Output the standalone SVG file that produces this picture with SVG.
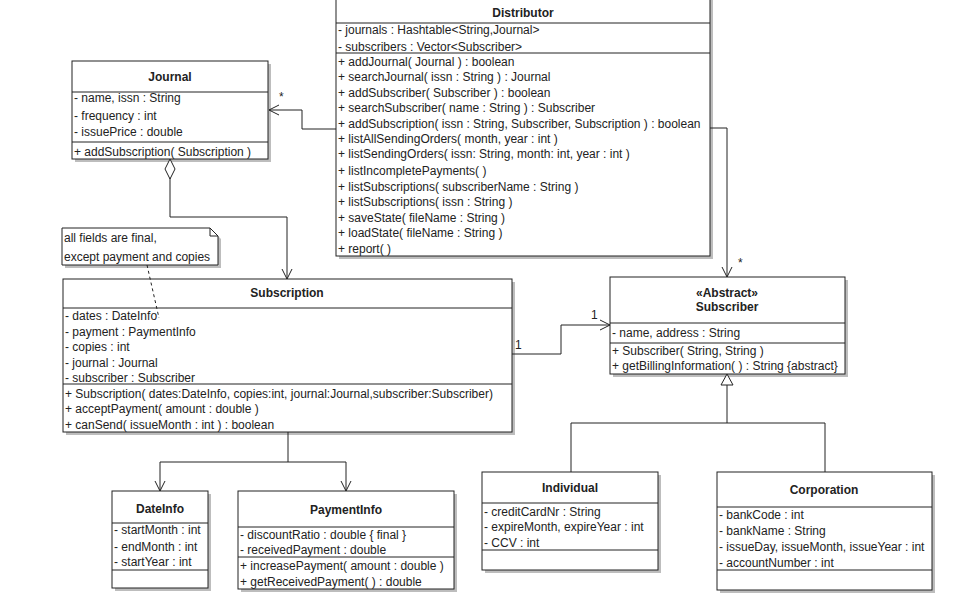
<svg xmlns="http://www.w3.org/2000/svg" width="970" height="599" viewBox="0 0 970 599">
<defs>
<style>
text{font-family:"Liberation Sans",Arial,sans-serif;font-size:12px;fill:#222}
.t{font-weight:bold;text-anchor:middle}
.box{fill:#fff;stroke:#222;stroke-width:1}
.sh{fill:#bdbdbd}
.sep{stroke:#222;stroke-width:1}
.ln{fill:none;stroke:#222;stroke-width:1}
.dash{fill:none;stroke:#222;stroke-width:1;stroke-dasharray:3,3}
</style>
<marker id="open" markerWidth="12" markerHeight="12" refX="11" refY="6" orient="auto" markerUnits="userSpaceOnUse">
<path d="M1,1 L11,6 L1,11" fill="none" stroke="#222" stroke-width="1"/>
</marker>
<marker id="tri" markerWidth="14" markerHeight="14" refX="12" refY="7" orient="auto" markerUnits="userSpaceOnUse">
<path d="M1,1 L12,7 L1,13 Z" fill="#fff" stroke="#222" stroke-width="1"/>
</marker>
<marker id="dia" markerWidth="24" markerHeight="12" refX="1" refY="6" orient="auto" markerUnits="userSpaceOnUse">
<path d="M1,6 L11,1 L21,6 L11,11 Z" fill="#fff" stroke="#222" stroke-width="1"/>
</marker>
</defs>
<rect width="970" height="599" fill="#fff"/>

<g id="note">
<path class="sh" d="M65,231 H213 L221,239 V268 H65 Z"/>
<path class="box" d="M62,228 H210 L218,236 V265 H62 Z"/>
<path class="ln" d="M210,228 V236 H218"/>
<text x="64" y="242">all fields are final,</text>
<text x="64" y="261">except payment and copies</text>
</g>

<g id="Distributor">
<rect class="sh" x="339" y="-4" width="374" height="263"/>
<rect class="box" x="336" y="-7" width="374" height="263"/>
<text class="t" x="523" y="17">Distributor</text>
<line class="sep" x1="336" y1="23" x2="710" y2="23"/>
<text x="338" y="34">- journals : Hashtable&lt;String,Journal&gt;</text>
<text x="338" y="51">- subscribers : Vector&lt;Subscriber&gt;</text>
<line class="sep" x1="336" y1="53" x2="710" y2="53"/>
<text x="338" y="66">+ addJournal( Journal ) : boolean</text>
<text x="338" y="81">+ searchJournal( issn : String ) : Journal</text>
<text x="338" y="97">+ addSubscriber( Subscriber ) : boolean</text>
<text x="338" y="112">+ searchSubscriber( name : String ) : Subscriber</text>
<text x="338" y="128">+ addSubscription( issn : String, Subscriber, Subscription ) : boolean</text>
<text x="338" y="143">+ listAllSendingOrders( month, year : int )</text>
<text x="338" y="158">+ listSendingOrders( issn: String, month: int, year : int )</text>
<text x="338" y="175">+ listIncompletePayments( )</text>
<text x="338" y="191">+ listSubscriptions( subscriberName : String )</text>
<text x="338" y="206">+ listSubscriptions( issn : String )</text>
<text x="338" y="222">+ saveState( fileName : String )</text>
<text x="338" y="237">+ loadState( fileName : String )</text>
<text x="338" y="253">+ report( )</text>
</g>

<g id="Journal">
<rect class="sh" x="75" y="64" width="196" height="98"/>
<rect class="box" x="72" y="61" width="196" height="98"/>
<text class="t" x="170" y="81">Journal</text>
<line class="sep" x1="72" y1="92" x2="268" y2="92"/>
<text x="74" y="102">- name, issn : String</text>
<text x="74" y="120">- frequency : int</text>
<text x="74" y="136">- issuePrice : double</text>
<line class="sep" x1="72" y1="142" x2="268" y2="142"/>
<text x="74" y="156">+ addSubscription( Subscription )</text>
</g>

<g id="Subscription">
<rect class="sh" x="66" y="282" width="449" height="153"/>
<rect class="box" x="63" y="279" width="449" height="153"/>
<text class="t" x="287" y="297">Subscription</text>
<line class="sep" x1="63" y1="308" x2="512" y2="308"/>
<text x="65" y="320">- dates : DateInfo</text>
<text x="65" y="336">- payment : PaymentInfo</text>
<text x="65" y="351">- copies : int</text>
<text x="65" y="367">- journal : Journal</text>
<text x="65" y="382">- subscriber : Subscriber</text>
<line class="sep" x1="63" y1="384" x2="512" y2="384"/>
<text x="65" y="398">+ Subscription( dates:DateInfo, copies:int, journal:Journal,subscriber:Subscriber)</text>
<text x="65" y="413">+ acceptPayment( amount : double )</text>
<text x="65" y="429">+ canSend( issueMonth : int ) : boolean</text>
</g>

<g id="Subscriber">
<rect class="sh" x="613" y="280" width="235" height="97"/>
<rect class="box" x="610" y="277" width="235" height="97"/>
<text class="t" x="727" y="297">«Abstract»</text>
<text class="t" x="727" y="311">Subscriber</text>
<line class="sep" x1="610" y1="323" x2="845" y2="323"/>
<text x="612" y="337">- name, address : String</text>
<line class="sep" x1="610" y1="343" x2="845" y2="343"/>
<text x="612" y="355">+ Subscriber( String, String )</text>
<text x="612" y="370">+ getBillingInformation( ) : String {abstract}</text>
</g>

<g id="DateInfo">
<rect class="sh" x="115" y="494" width="96" height="97"/>
<rect class="box" x="112" y="491" width="96" height="97"/>
<text class="t" x="160" y="513">DateInfo</text>
<line class="sep" x1="112" y1="523" x2="208" y2="523"/>
<text x="114" y="534">- startMonth : int</text>
<text x="114" y="551">- endMonth : int</text>
<text x="114" y="566">- startYear : int</text>
<line class="sep" x1="112" y1="570" x2="208" y2="570"/>
</g>

<g id="PaymentInfo">
<rect class="sh" x="241" y="494" width="216" height="98"/>
<rect class="box" x="238" y="491" width="216" height="98"/>
<text class="t" x="346" y="514">PaymentInfo</text>
<line class="sep" x1="238" y1="527" x2="454" y2="527"/>
<text x="240" y="539">- discountRatio : double { final }</text>
<text x="240" y="554">- receivedPayment : double</text>
<line class="sep" x1="238" y1="557" x2="454" y2="557"/>
<text x="240" y="570">+ increasePayment( amount : double )</text>
<text x="240" y="586">+ getReceivedPayment( ) : double</text>
</g>

<g id="Individual">
<rect class="sh" x="485" y="475" width="176" height="98"/>
<rect class="box" x="482" y="472" width="176" height="98"/>
<text class="t" x="570" y="492">Individual</text>
<line class="sep" x1="482" y1="503" x2="658" y2="503"/>
<text x="484" y="516">- creditCardNr : String</text>
<text x="484" y="531">- expireMonth, expireYear : int</text>
<text x="484" y="547">- CCV : int</text>
<line class="sep" x1="482" y1="550" x2="658" y2="550"/>
</g>

<g id="Corporation">
<rect class="sh" x="720" y="475" width="215" height="118"/>
<rect class="box" x="717" y="472" width="215" height="118"/>
<text class="t" x="824" y="494">Corporation</text>
<line class="sep" x1="717" y1="507" x2="932" y2="507"/>
<text x="719" y="519">- bankCode : int</text>
<text x="719" y="535">- bankName : String</text>
<text x="719" y="551">- issueDay, issueMonth, issueYear : int</text>
<text x="719" y="567">- accountNumber : int</text>
<line class="sep" x1="717" y1="570" x2="932" y2="570"/>
</g>

<g id="connectors">
<polyline class="ln" points="336,129 302,129 302,110 269,110" marker-end="url(#open)"/>
<text x="279" y="101">*</text>
<polyline class="ln" points="710,128 727,128 727,277" marker-end="url(#open)"/>
<text x="738" y="267">*</text>
<polyline class="ln" points="170,159 170,217 287,217 287,279" marker-start="url(#dia)" marker-end="url(#open)"/>
<polyline class="ln" points="512,354 561,354 561,325 610,325" marker-end="url(#open)"/>
<text x="515" y="349">1</text>
<text x="591" y="319">1</text>
<polyline class="ln" points="288,432 288,462 160,462 160,491" marker-end="url(#open)"/>
<polyline class="ln" points="288,462 346,462 346,491" marker-end="url(#open)"/>
<polyline class="ln" points="571,472 571,423 825,423 825,472"/>
<polyline class="ln" points="727,423 727,374" marker-end="url(#tri)"/>
<line class="dash" x1="147" y1="265" x2="159" y2="318"/>
</g>
</svg>
